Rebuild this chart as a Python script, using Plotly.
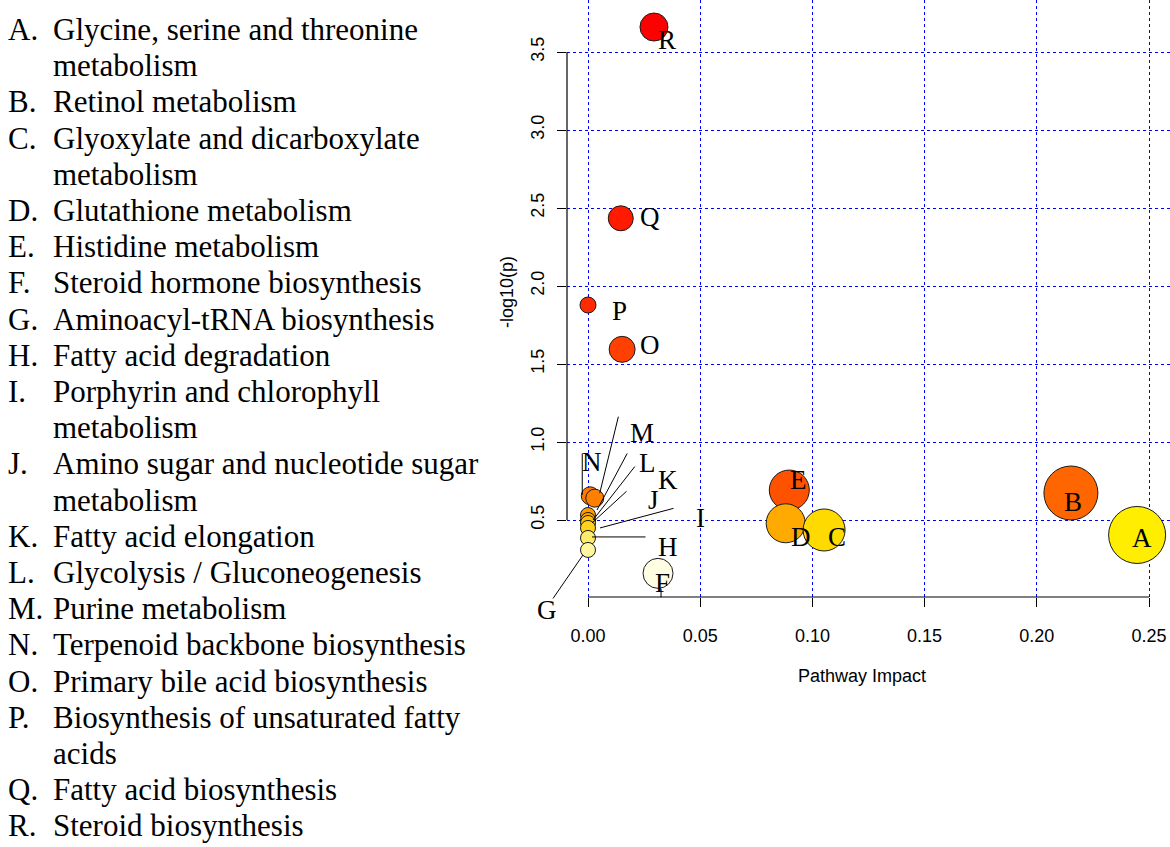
import numpy as np
import plotly.graph_objects as go

# ---------------- data ----------------
labels = list("ABCDEFGHIJKLMNOPQR")
pathways = [
    "Glycine, serine and threonine\nmetabolism",
    "Retinol metabolism",
    "Glyoxylate and dicarboxylate\nmetabolism",
    "Glutathione metabolism",
    "Histidine metabolism",
    "Steroid hormone biosynthesis",
    "Aminoacyl-tRNA biosynthesis",
    "Fatty acid degradation",
    "Porphyrin and chlorophyll\nmetabolism",
    "Amino sugar and nucleotide sugar\nmetabolism",
    "Fatty acid elongation",
    "Glycolysis / Gluconeogenesis",
    "Purine metabolism",
    "Terpenoid backbone biosynthesis",
    "Primary bile acid biosynthesis",
    "Biosynthesis of unsaturated fatty\nacids",
    "Fatty acid biosynthesis",
    "Steroid biosynthesis",
]
impact = [0.2447, 0.2152, 0.1052, 0.0881, 0.0897, 0.0312, 0.0, 0.0, 0.0,
          0.0, 0.0, 0.0, 0.003, 0.001, 0.0152, 0.0, 0.0146, 0.0294]
neglogp = [0.404, 0.673, 0.436, 0.479, 0.692, 0.158, 0.308, 0.385, 0.449,
           0.481, 0.500, 0.532, 0.640, 0.655, 1.594, 1.878, 2.434, 3.660]

x_ticks = [0.0, 0.05, 0.10, 0.15, 0.20, 0.25]
x_ticktext = ["0.00", "0.05", "0.10", "0.15", "0.20", "0.25"]
y_ticks = [0.5, 1.0, 1.5, 2.0, 2.5, 3.0, 3.5]
y_ticktext = ["0.5", "1.0", "1.5", "2.0", "2.5", "3.0", "3.5"]

# ---------------- styles ----------------
marker_size = {"A": 57, "B": 54, "C": 42, "D": 39, "E": 40, "F": 30, "G": 15,
               "H": 15, "I": 15, "J": 15, "K": 15, "L": 15, "M": 18, "N": 18,
               "O": 26, "P": 16, "Q": 25, "R": 28}
marker_color = {"A": "#FFEE00", "B": "#FF6600", "C": "#FFDA00", "D": "#FFAA00",
                "E": "#FF5200", "F": "#FFFDE2", "G": "#FFF7A0", "H": "#FFEB6B",
                "I": "#FFD21F", "J": "#FFC000", "K": "#FFA800", "L": "#FF9900",
                "M": "#FF8000", "N": "#FF7800", "O": "#FF4000", "P": "#FF2A00",
                "Q": "#FF1A00", "R": "#FF0000"}
# label text offsets in pixels (dx right, dy down) from point centre
text_off = {"A": (5, 3), "B": (2, 9), "C": (13, 7), "D": (15, 14), "E": (9, -10),
            "F": (4, 10), "G": (-41, 60), "H": (80, 9), "I": (112, -10),
            "J": (65, -23), "K": (80, -40), "L": (59, -52), "M": (47, -65),
            "N": (2, -34), "O": (28, -4), "P": (31, 6), "Q": (29, -1), "R": (13, 13)}
# leader lines: (head dx, head dy, tail dx, tail dy) in pixels from point centre
line_off = {"F": (3, 24, 3, 14), "G": (-5, 5, -36, 50), "H": (4, -1, 59, -1),
            "I": (12, 0, 87, -20), "J": (4, 0, 40, -33), "K": (5, 0, 48, -55),
            "L": (9, -5, 40, -63), "M": (5, -5, 24, -83), "N": (-8, -1, -8, -44)}

W, H = 1170, 847
# plot area edges in pixels
L_PX, R_PX, T_PX, B_PX = 567, 1170, 0, 597
x_range = [-0.00936, 0.25936]
y_range = [0.0064, 3.8333]

SERIF = "Liberation Serif"
SANS = "Liberation Sans"


def px2paper_x(px):
    return (px - L_PX) / (R_PX - L_PX)


def px2paper_y(py):
    return (B_PX - py) / (B_PX - T_PX)


x = np.array(impact)
y = np.array(neglogp)
order = np.argsort(-y, kind="stable")

fig = go.Figure()
fig.add_trace(go.Scatter(
    x=x[order], y=y[order], mode="markers",
    marker=dict(size=[marker_size[labels[i]] for i in order],
                color=[marker_color[labels[i]] for i in order],
                line=dict(color="#1a1a1a", width=1), opacity=1),
    cliponaxis=False, hoverinfo="skip", showlegend=False))

annotations = []
for i, lab in enumerate(labels):
    if lab in line_off:
        hx, hy, tx, ty = line_off[lab]
        annotations.append(dict(
            x=x[i], y=y[i], xref="x", yref="y", text="", showarrow=True,
            arrowhead=0, arrowwidth=1, arrowcolor="black", standoff=0,
            axref="pixel", ayref="pixel", ax=tx - hx, ay=ty - hy,
            xshift=hx, yshift=-hy, font=dict(size=1)))
for i, lab in enumerate(labels):
    dx, dy = text_off[lab]
    annotations.append(dict(
        x=x[i], y=y[i], xref="x", yref="y", text=lab, showarrow=False,
        xshift=dx, yshift=-dy, xanchor="center", yanchor="middle",
        font=dict(family=SERIF, size=27, color="black")))

# legend text on the left
line_h = 36.2
first_c = 29.5
row = 0
for lab, name in zip(labels, pathways):
    parts = name.split("\n")
    annotations.append(dict(
        x=px2paper_x(6), y=px2paper_y(first_c + line_h * row), xref="paper", yref="paper",
        text=lab + ".", showarrow=False, xanchor="left", yanchor="middle",
        font=dict(family=SERIF, size=31, color="black")))
    for p in parts:
        annotations.append(dict(
            x=px2paper_x(51), y=px2paper_y(first_c + line_h * row), xref="paper", yref="paper",
            text=p, showarrow=False, xanchor="left", yanchor="middle",
            font=dict(family=SERIF, size=31, color="black")))
        row += 1

# axis titles
annotations.append(dict(x=px2paper_x(862), y=px2paper_y(676), xref="paper", yref="paper",
                        text="Pathway Impact", showarrow=False,
                        xanchor="center", yanchor="middle",
                        font=dict(family=SANS, size=18, color="black")))
annotations.append(dict(x=px2paper_x(507), y=px2paper_y(292), xref="paper", yref="paper",
                        text="-log10(p)", showarrow=False, textangle=-90,
                        xanchor="center", yanchor="middle",
                        font=dict(family=SANS, size=18, color="black")))

shapes = [
    dict(type="line", xref="x", yref="paper", x0=x_ticks[0], x1=x_ticks[-1], y0=0, y1=0,
         line=dict(color="black", width=1.2)),
    dict(type="line", xref="paper", yref="y", x0=0, x1=0, y0=y_ticks[0], y1=y_ticks[-1],
         line=dict(color="black", width=1.2)),
]

axis_common = dict(showgrid=True, gridcolor="#0000FF", gridwidth=1, griddash="dot",
                   zeroline=False, showline=False, ticks="outside", ticklen=9,
                   tickwidth=1, tickcolor="black",
                   tickfont=dict(family=SANS, size=18, color="black"))

fig.update_layout(
    width=W, height=H, autosize=False,
    margin=dict(l=L_PX, r=W - R_PX, t=T_PX, b=H - B_PX, pad=0, autoexpand=False),
    paper_bgcolor="white", plot_bgcolor="white",
    xaxis=dict(range=x_range, tickvals=x_ticks, ticktext=x_ticktext,
               ticklabelstandoff=13, **axis_common),
    yaxis=dict(range=y_range, tickvals=y_ticks, ticktext=y_ticktext, tickangle=-90,
               ticklabelstandoff=6, **axis_common),
    annotations=annotations, shapes=shapes, showlegend=False,
)

# remove the browser's default 8px body margin so the figure fills the window exactly
fig.write_html("out.html",
               config={"displayModeBar": False, "staticPlot": True},
               post_script="document.body.style.margin='0';document.body.style.overflow='hidden';")
